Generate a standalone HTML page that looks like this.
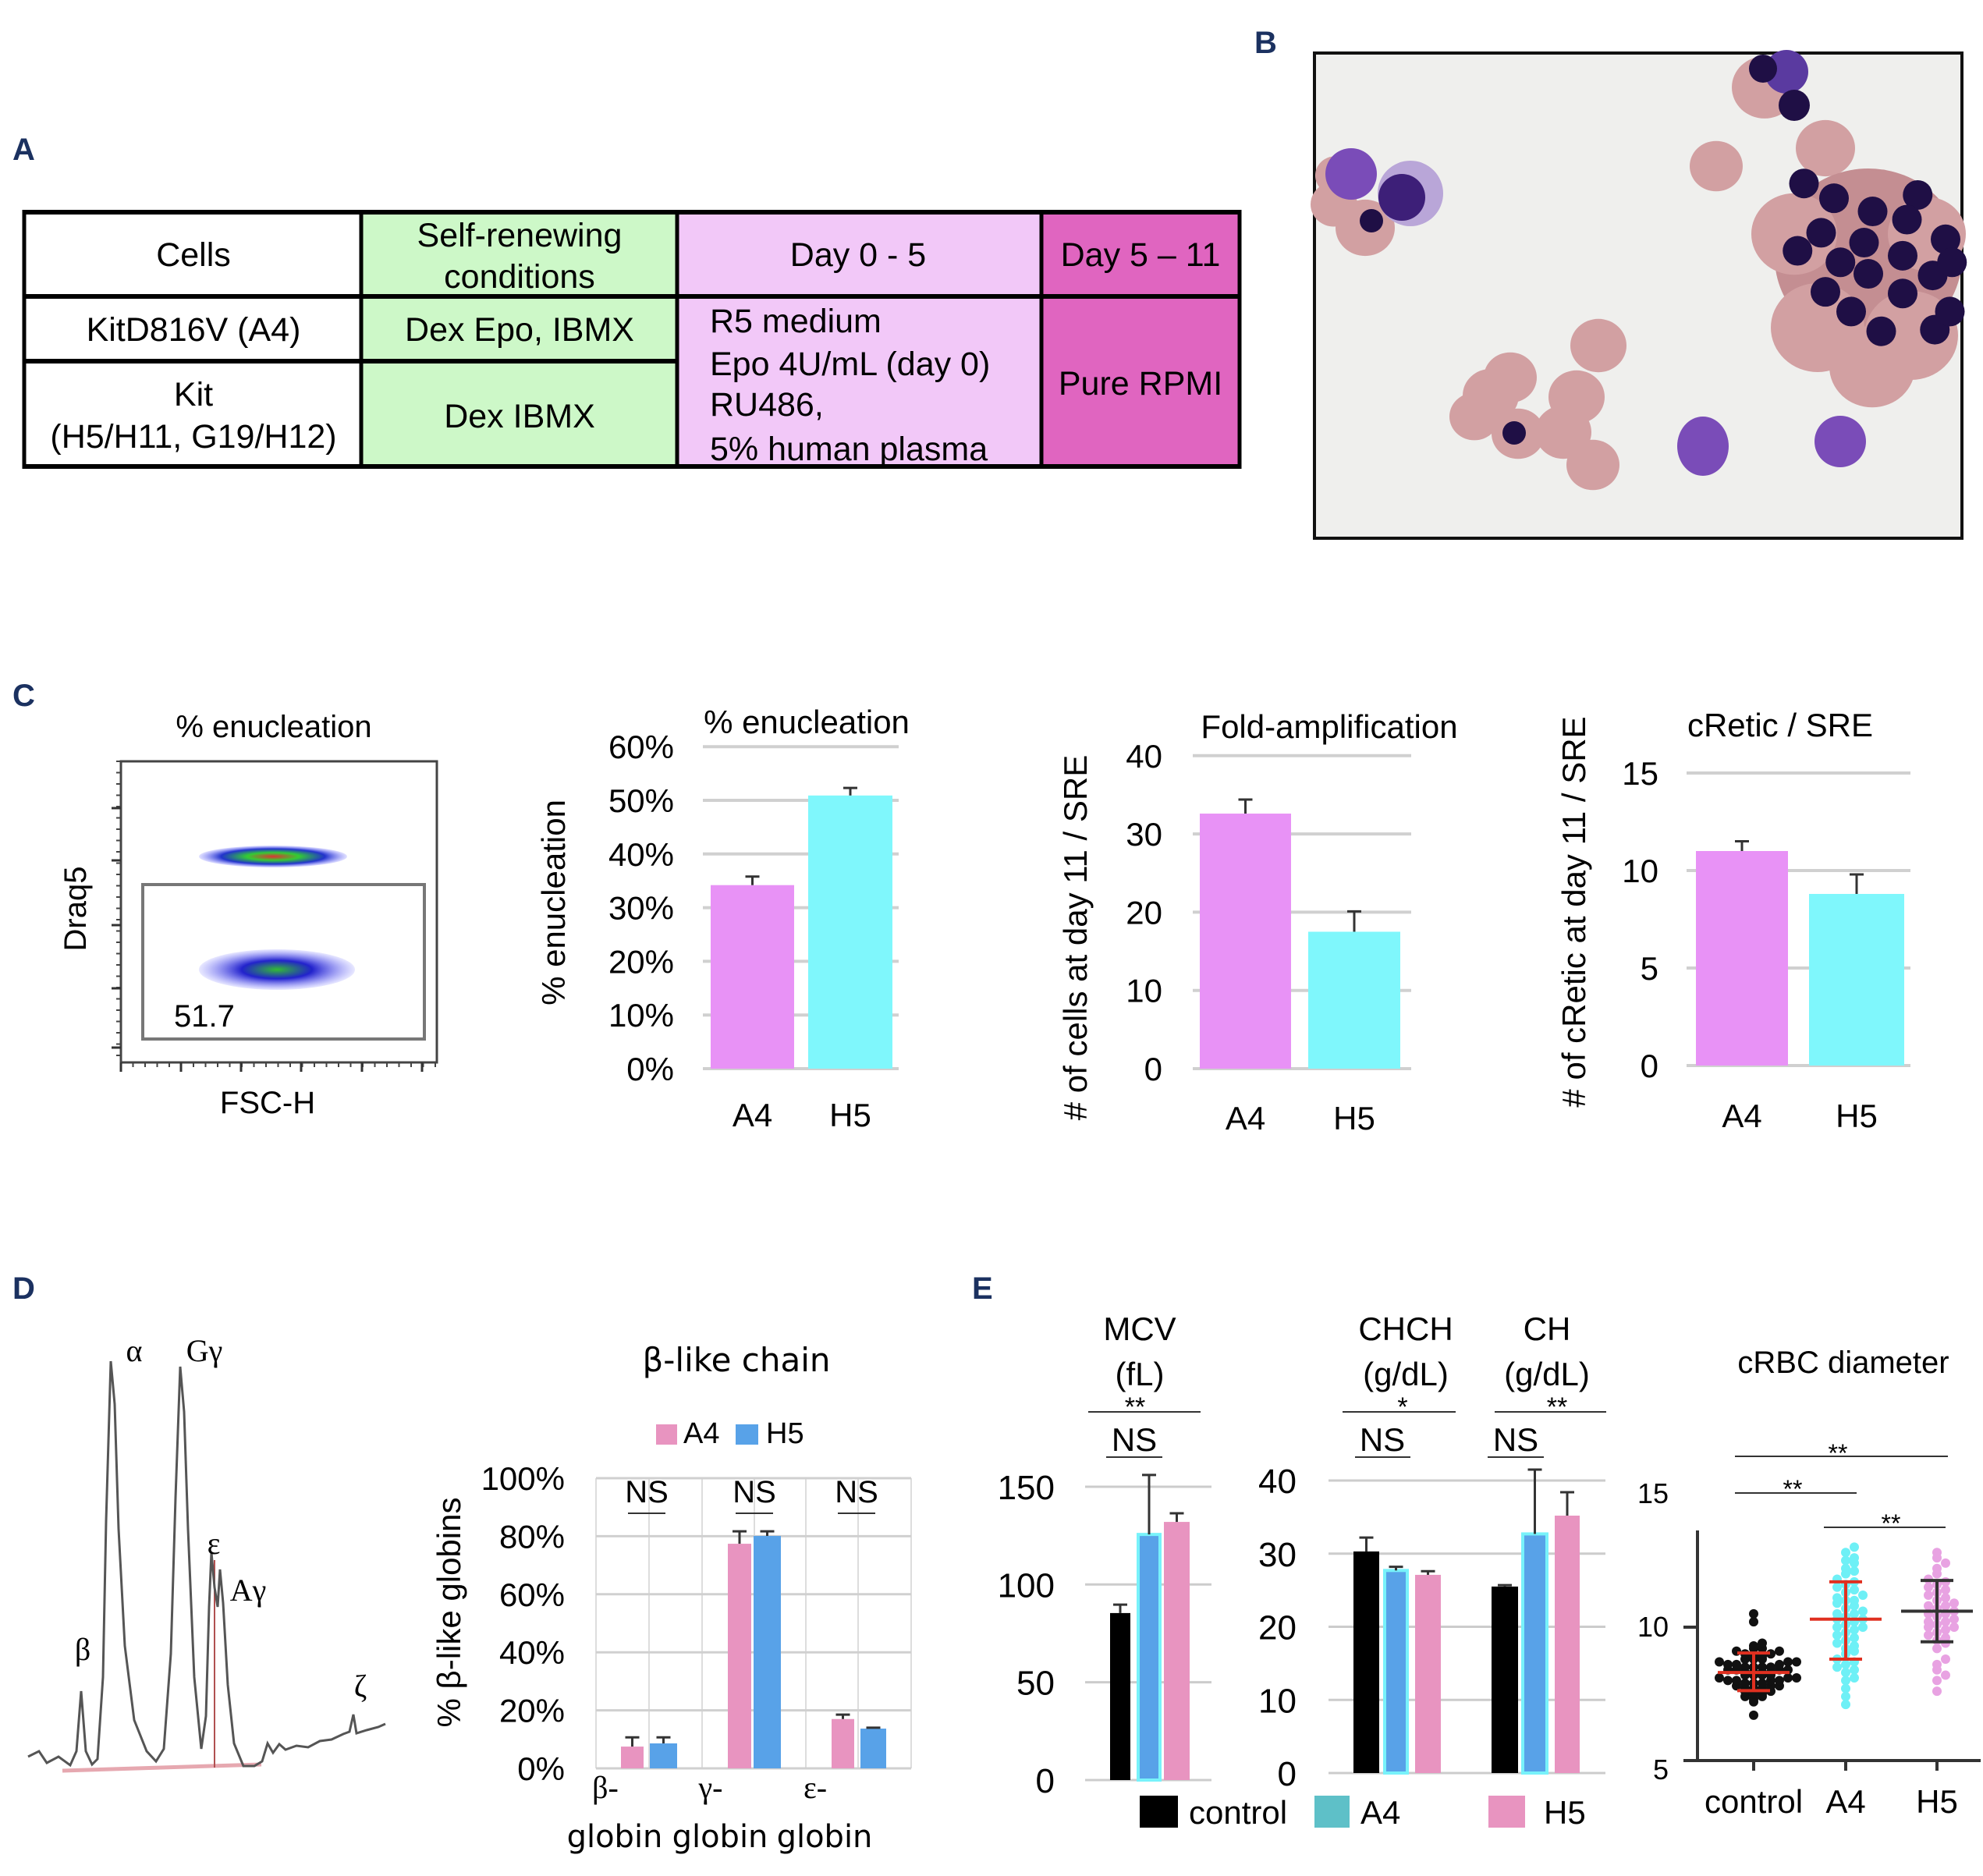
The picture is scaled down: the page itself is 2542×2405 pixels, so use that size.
<!DOCTYPE html>
<html><head><meta charset="utf-8">
<style>
html,body{margin:0;padding:0;background:#fff;}
svg{display:block;font-family:"Liberation Sans",Arial,sans-serif;}
</style></head>
<body>
<svg id="fig" xmlns="http://www.w3.org/2000/svg" width="2542" height="2405" viewBox="0 0 2542 2405">
<rect x="0" y="0" width="2542" height="2405" fill="#fff"/>
<g font-weight="bold" fill="#1b3160" font-size="40">
<text x="16" y="205">A</text>
<text x="1608" y="68">B</text>
<text x="16" y="905">C</text>
<text x="16" y="1665">D</text>
<text x="1246" y="1665">E</text>
</g>
<g>
<rect x="31" y="269" width="432" height="111" fill="#fff"/>
<rect x="463" y="269" width="405" height="331" fill="#cdf8c8"/>
<rect x="868" y="269" width="467" height="331" fill="#f2c8f8"/>
<rect x="1335" y="269" width="254" height="331" fill="#e065c0"/>
</g>
<g id="tableA"></g>
<g id="photo"></g>
<g id="charts"></g>
</svg>
<script>
// ===== data arrays =====
const encCategories = ['A4', 'H5'];
const encValues = [34.2, 50.9];
const encErrors = [1.6, 1.4];
const encTicks = ['0%', '10%', '20%', '30%', '40%', '50%', '60%'];

const foldCategories = ['A4', 'H5'];
const foldValues = [32.6, 17.5];
const foldErrors = [1.8, 2.6];
const foldTicks = [0, 10, 20, 30, 40];

const reticCategories = ['A4', 'H5'];
const reticValues = [11.0, 8.8];
const reticErrors = [0.5, 1.0];
const reticTicks = [0, 5, 10, 15];

const globCategories = ['β-', 'γ-', 'ε-'];
const globA4 = [7.5, 77.4, 17.0];
const globH5 = [8.6, 80.1, 13.7];
const globErrA4 = [3.2, 4.3, 1.5];
const globErrH5 = [2.1, 1.6, 0.3];
const globTicks = ['0%', '20%', '40%', '60%', '80%', '100%'];

const eGroups = ['control', 'A4', 'H5'];
const mcvValues = [85.4, 125.6, 132.0];
const mcvErrors = [4.3, 30.4, 4.4];
const mcvTicks = [0, 50, 100, 150];
const chchValues = [30.3, 27.7, 27.1];
const chchErrors = [1.9, 0.5, 0.5];
const chValues = [25.5, 32.7, 35.2];
const chErrors = [0.2, 8.8, 3.2];
const chTicks = [0, 10, 20, 30, 40];

const diamTicks = [5, 10, 15];
const diamControl = [6.7,7.2,7.3,7.4,7.4,7.5,7.5,7.6,7.6,7.7,7.7,7.7,7.8,7.8,7.8,7.9,7.9,7.9,8.0,8.0,8.0,8.0,8.1,8.1,8.1,8.2,8.2,8.2,8.2,8.3,8.3,8.3,8.3,8.4,8.4,8.4,8.4,8.5,8.5,8.5,8.5,8.6,8.6,8.6,8.7,8.7,8.7,8.8,8.8,8.8,8.9,8.9,9.0,9.0,9.1,9.1,9.2,9.2,9.3,9.4,10.2,10.5];
const diamA4 = [7.1,7.4,7.7,8.0,8.1,8.3,8.4,8.5,8.6,8.7,8.8,9.0,9.1,9.2,9.3,9.4,9.5,9.6,9.7,9.8,9.9,10.0,10.0,10.1,10.2,10.3,10.3,10.4,10.5,10.5,10.6,10.7,10.8,10.9,11.0,11.0,11.1,11.2,11.3,11.4,11.5,11.6,11.7,11.8,12.0,12.1,12.2,12.4,12.5,12.6,12.8,13.0];
const diamH5 = [7.6,8.0,8.2,8.4,8.6,8.8,9.2,9.4,9.5,9.6,9.7,9.8,9.9,10.0,10.0,10.1,10.2,10.2,10.3,10.4,10.5,10.5,10.6,10.7,10.8,10.8,10.9,11.0,11.1,11.2,11.3,11.4,11.5,11.6,11.7,11.8,12.0,12.2,12.4,12.6,12.8];
const diamMeans = [8.3, 10.3, 10.6];
const diamSdHigh = [9.03, 11.7, 11.75];
const diamSdLow = [7.62, 8.8, 9.45];

// ===== helpers =====
const NS = 'http://www.w3.org/2000/svg';
function mk(parent, tag, attrs, name) {
  const el = document.createElementNS(NS, tag);
  for (const k in attrs) el.setAttribute(k, attrs[k]);
  
  
  parent.appendChild(el);
  return el;
}
function txt(parent, x, y, s, size, anchor, name, extra) {
  const a = Object.assign({x: x, y: y, 'font-size': size, 'text-anchor': anchor || 'middle', fill: '#000'}, extra || {});
  const el = mk(parent, 'text', a, name);
  el.textContent = s;
  return el;
}
function line(p, x1, y1, x2, y2, stroke, w, name) {
  return mk(p, 'line', {x1: x1, y1: y1, x2: x2, y2: y2, stroke: stroke, 'stroke-width': w}, name);
}
function vtxt(p, cx, cy, s, size, name) {
  return txt(p, 0, 0, s, size, 'middle', name, {transform: 'translate(' + cx + ',' + cy + ') rotate(-90)'});
}
function errBar(p, cx, yTop, yErr, name) {
  line(p, cx, yTop, cx, yErr, '#333', 3, name + '-err');
  line(p, cx - 9, yErr, cx + 9, yErr, '#333', 3, name + '-cap');
}

// ===== Panel A table =====
(function () {
  const g = document.getElementById('tableA');
  const black = '#000';
  line(g, 31, 272, 1589, 272, black, 6, 'table-top');
  line(g, 31, 598, 1589, 598, black, 6, 'table-bottom');
  line(g, 31, 380, 1589, 380, black, 6, 'row-line-1');
  line(g, 31, 463, 868, 463, black, 6, 'row-line-2');
  [31, 463, 868, 1335, 1589].forEach(function (x, i) {
    line(g, x, 269, x, 601, black, 5, 'col-line-' + i);
  });
  const fs = 43;
  txt(g, 248, 341, 'Cells', fs, 'middle', 'header-cells');
  txt(g, 666, 316, 'Self-renewing', fs, 'middle', 'header-self-renewing');
  txt(g, 666, 369, 'conditions', fs, 'middle', 'header-conditions');
  txt(g, 1100, 341, 'Day 0 - 5', fs, 'middle', 'header-day0-5');
  txt(g, 1462, 341, 'Day 5 – 11', fs, 'middle', 'header-day5-11');
  txt(g, 248, 437, 'KitD816V (A4)', fs, 'middle', 'row-a4-cells');
  txt(g, 666, 437, 'Dex Epo, IBMX', fs, 'middle', 'row-a4-conditions');
  txt(g, 248, 520, 'Kit', fs, 'middle', 'row-kit-cells');
  txt(g, 248, 574, '(H5/H11, G19/H12)', fs, 'middle', 'row-kit-clones');
  txt(g, 666, 548, 'Dex IBMX', fs, 'middle', 'row-kit-conditions');
  txt(g, 910, 426, 'R5 medium', fs, 'start', 'medium-line-1');
  txt(g, 910, 481, 'Epo 4U/mL (day 0)', fs, 'start', 'medium-line-2');
  txt(g, 910, 533, 'RU486,', fs, 'start', 'medium-line-3');
  txt(g, 910, 590, '5% human plasma', fs, 'start', 'medium-line-4');
  txt(g, 1462, 506, 'Pure RPMI', fs, 'middle', 'pure-rpmi');
})();

// ===== Panel B photo =====
(function () {
  const g = document.getElementById('photo');
  mk(g, 'rect', {x: 1685, y: 68, width: 830, height: 622, fill: '#efefed', stroke: '#111', 'stroke-width': 4}, 'photo-frame');
  const pink = '#d2a0a2', dpink = '#c48e92', nuc = '#1f0f45', purp = '#7a4cb8';
  const pinks = [[1710,262,30],[1750,292,38],[1712,225,26],[2262,112,42],[2200,213,34],[2340,190,38],[2395,330,120],[2300,300,55],[2470,300,50],[2330,420,60],[2450,430,60],[2400,470,55],
    [1911,507,36],[1936,484,34],[2049,443,36],[2021,509,36],[2004,554,36],[2042,596,34],[1890,534,32],[1946,556,34]];
  pinks.forEach(function (c, i) {
    mk(g, 'ellipse', {cx: c[0], cy: c[1], rx: c[2], ry: c[2] * 0.95, fill: i === 6 ? dpink : pink}, 'rbc-' + i);
  });
  mk(g, 'circle', {cx: 1808, cy: 248, r: 42, fill: '#b9a6d8'}, 'cell-halo');
  mk(g, 'circle', {cx: 1732, cy: 223, r: 33, fill: purp}, 'blast-cell');
  mk(g, 'circle', {cx: 1797, cy: 253, r: 30, fill: '#3d1f78'}, 'erythroblast');
  mk(g, 'circle', {cx: 1758, cy: 283, r: 15, fill: nuc}, 'nucleus-left');
  mk(g, 'circle', {cx: 2290, cy: 92, r: 28, fill: '#5a3aa0'}, 'top-blast');
  mk(g, 'circle', {cx: 2260, cy: 88, r: 18, fill: nuc}, 'top-nucleus-1');
  mk(g, 'circle', {cx: 2300, cy: 135, r: 20, fill: nuc}, 'top-nucleus-2');
  const nz = [[1150,440],[1220,485],[1310,525],[1415,475],[1390,550],[1190,590],[1290,620],[1135,645],[1480,610],[1235,680],[1300,715],[1380,660],[1450,720],[1200,770],[1260,830],[1380,775],[1330,890],[1455,885],[1490,830],[1495,680]];
  nz.forEach(function (p, i) {
    mk(g, 'circle', {cx: 1680 + 0.55 * p[0], cy: 50 + 0.421 * p[1], r: 19, fill: nuc}, 'cluster-nucleus-' + i);
  });
  mk(g, 'circle', {cx: 1941, cy: 555, r: 15, fill: nuc}, 'bottom-nucleus');
  mk(g, 'ellipse', {cx: 2183, cy: 572, rx: 33, ry: 38, fill: purp}, 'purple-cell-1');
  mk(g, 'ellipse', {cx: 2359, cy: 566, rx: 33, ry: 33, fill: purp}, 'purple-cell-2');
})();

const C = document.getElementById('charts');

// ===== Panel C: flow plot =====
(function () {
  const g = mk(C, 'g', {}, 'flow-plot');
  txt(g, 351, 945, '% enucleation', 40, 'middle', 'flow-title');
  mk(g, 'rect', {x: 155, y: 976, width: 405, height: 386, fill: 'none', stroke: '#444', 'stroke-width': 3}, 'flow-frame');
  mk(g, 'rect', {x: 183, y: 1134, width: 361, height: 198, fill: 'none', stroke: '#777', 'stroke-width': 4}, 'gate-box');
  for (let i = 0; i < 27; i++) {
    const y = 976 + i * 14.5;
    line(g, 149, y, 155, y, '#444', 2, 'y-minor-tick');
  }
  [1036, 1103, 1186, 1267, 1343].forEach(function (y) { line(g, 143, y, 155, y, '#333', 3, 'y-major-tick'); });
  for (let i = 0; i < 27; i++) {
    const x = 155 + i * 15.5;
    line(g, x, 1362, x, 1368, '#444', 2, 'x-minor-tick');
  }
  [155, 232, 309, 386, 464, 541].forEach(function (x) { line(g, x, 1362, x, 1374, '#333', 3, 'x-major-tick'); });
  const defs = mk(g, 'defs', {}, 'flow-defs');
  const gr = mk(defs, 'radialGradient', {id: 'dens1'}, 'density-gradient');
  mk(gr, 'stop', {offset: '0%', 'stop-color': '#d33'}, 'stop-red');
  mk(gr, 'stop', {offset: '35%', 'stop-color': '#3c3'}, 'stop-green');
  mk(gr, 'stop', {offset: '70%', 'stop-color': '#23c'}, 'stop-blue');
  mk(gr, 'stop', {offset: '100%', 'stop-color': '#66f', 'stop-opacity': '0.2'}, 'stop-edge');
  const gr2 = mk(defs, 'radialGradient', {id: 'dens2'}, 'density-gradient-2');
  mk(gr2, 'stop', {offset: '0%', 'stop-color': '#3b3'}, 'stop-green');
  mk(gr2, 'stop', {offset: '45%', 'stop-color': '#22c'}, 'stop-blue');
  mk(gr2, 'stop', {offset: '100%', 'stop-color': '#66f', 'stop-opacity': '0.15'}, 'stop-edge');
  mk(g, 'ellipse', {cx: 350, cy: 1098, rx: 95, ry: 14, fill: 'url(#dens1)'}, 'nucleated-population');
  mk(g, 'ellipse', {cx: 355, cy: 1243, rx: 100, ry: 26, fill: 'url(#dens2)'}, 'enucleated-population');
  txt(g, 223, 1316, '51.7', 40, 'start', 'gate-percentage');
  vtxt(g, 110, 1165, 'Draq5', 40, 'y-axis-title');
  txt(g, 343, 1427, 'FSC-H', 40, 'middle', 'x-axis-title');
})();

function barChart(cfg) {
  const g = mk(C, 'g', {}, cfg.name);
  const y = function (v) { return cfg.y0 - (v - cfg.vmin) * cfg.k; };
  cfg.ticks.forEach(function (t, i) {
    const v = cfg.tickVals[i];
    line(g, cfg.gx0, y(v), cfg.gx1, y(v), '#d0d0d0', 4, 'gridline');
    txt(g, cfg.lx, y(v) + 15, String(t), 42, 'end', 'y-tick-label');
  });
  cfg.values.forEach(function (v, i) {
    const x0 = cfg.bx[i][0], x1 = cfg.bx[i][1];
    mk(g, 'rect', {x: x0, y: y(v), width: x1 - x0, height: y(cfg.vmin) - y(v), fill: cfg.colors[i]}, 'bar-' + cfg.cats[i]);
    errBar(g, (x0 + x1) / 2, y(v), y(v + cfg.errors[i]), 'bar-' + cfg.cats[i]);
    txt(g, (x0 + x1) / 2, cfg.xly, cfg.cats[i], 42, 'middle', 'x-label-' + cfg.cats[i]);
  });
  txt(g, cfg.tx, cfg.ty, cfg.title, 42, 'middle', 'chart-title');
  vtxt(g, cfg.ytx, cfg.yty, cfg.ytitle, 42, 'y-axis-title');
}
barChart({name: 'enucleation-chart', cats: encCategories, values: encValues, errors: encErrors,
  ticks: encTicks, tickVals: [0, 10, 20, 30, 40, 50, 60], vmin: 0, y0: 1370, k: 6.88,
  gx0: 901, gx1: 1152, lx: 864, bx: [[911, 1018], [1036, 1144]], colors: ['#e892f6', '#7ff7fc'],
  xly: 1444, tx: 1034, ty: 940, title: '% enucleation', ytx: 724, yty: 1157, ytitle: '% enucleation'});
barChart({name: 'fold-amplification-chart', cats: foldCategories, values: foldValues, errors: foldErrors,
  ticks: foldTicks, tickVals: foldTicks, vmin: 0, y0: 1370, k: 10.03,
  gx0: 1529, gx1: 1809, lx: 1490, bx: [[1538, 1655], [1677, 1795]], colors: ['#e892f6', '#7ff7fc'],
  xly: 1448, tx: 1704, ty: 946, title: 'Fold-amplification', ytx: 1393, yty: 1202, ytitle: '# of cells at day 11 / SRE'});
barChart({name: 'cretic-chart', cats: reticCategories, values: reticValues, errors: reticErrors,
  ticks: reticTicks, tickVals: reticTicks, vmin: 0, y0: 1366, k: 25.0,
  gx0: 2162, gx1: 2449, lx: 2126, bx: [[2174, 2292], [2319, 2441]], colors: ['#e892f6', '#7ff7fc'],
  xly: 1445, tx: 2282, ty: 944, title: 'cRetic / SRE', ytx: 2032, yty: 1169, ytitle: '# of cRetic at day 11 / SRE'});

// ===== Panel D chromatogram =====
(function () {
  const g = mk(C, 'g', {}, 'chromatogram');
  mk(g, 'line', {x1: 80, y1: 2270, x2: 335, y2: 2262, stroke: '#e6a8b0', 'stroke-width': 5}, 'chrom-baseline');
  mk(g, 'line', {x1: 275, y1: 2000, x2: 275, y2: 2266, stroke: '#b05050', 'stroke-width': 2}, 'chrom-marker');
  const pts = [[36,2252],[50,2245],[60,2260],[75,2252],[90,2263],[98,2245],[104,2168],[110,2245],[118,2262],[125,2255],[132,2150],[136,1950],[142,1745],[147,1800],[152,1960],[160,2110],[172,2205],[188,2245],[200,2258],[210,2242],[219,2120],[225,1920],[231,1752],[236,1810],[241,1960],[249,2150],[258,2242],[264,2200],[268,2060],[271,1990],[275,2035],[279,2060],[282,2012],[286,2055],[292,2160],[300,2235],[312,2264],[326,2264],[336,2258],[343,2235],[350,2247],[358,2236],[366,2243],[380,2238],[395,2240],[410,2232],[425,2230],[440,2223],[448,2220],[453,2198],[457,2222],[470,2218],[485,2214],[494,2210]];
  mk(g, 'polyline', {points: pts.map(function (p) { return p.join(','); }).join(' '), fill: 'none', stroke: '#555', 'stroke-width': 3}, 'chrom-trace');
  const lab = [[106,2128,'β','beta'],[172,1745,'α','alpha'],[262,1745,'Gγ','g-gamma'],[274,1992,'ε','epsilon'],[318,2052,'Aγ','a-gamma'],[462,2175,'ζ','zeta']];
  lab.forEach(function (l) {
    txt(g, l[0], l[1], l[2], 40, 'middle', 'peak-label-' + l[3], {'font-family': '"Liberation Serif", serif'});
  });
})();

// ===== Panel D bar chart =====
(function () {
  const g = mk(C, 'g', {}, 'beta-like-chain-chart');
  const y = function (v) { return 2267 - v * 3.72; };
  [764, 832, 900, 967, 1033, 1100, 1168].forEach(function (x) { line(g, x, 1895, x, 2267, '#ddd', 2, 'v-gridline'); });
  globTicks.forEach(function (t, i) {
    const v = i * 20;
    line(g, 764, y(v), 1168, y(v), '#d0d0d0', 3, 'gridline');
    txt(g, 724, y(v) + 15, t, 42, 'end', 'y-tick-label');
  });
  const ax = [[796, 825], [933, 963], [1066, 1095]];
  const hx = [[833, 868], [966, 1001], [1103, 1136]];
  const nsx = [829, 967, 1098];
  const lx = [788, 923, 1057];
  globCategories.forEach(function (c, i) {
    mk(g, 'rect', {x: ax[i][0], y: y(globA4[i]), width: ax[i][1] - ax[i][0], height: y(0) - y(globA4[i]), fill: '#e894c0'}, 'bar-a4-' + i);
    errBar(g, (ax[i][0] + ax[i][1]) / 2, y(globA4[i]), y(globA4[i] + globErrA4[i]), 'bar-a4-' + i);
    mk(g, 'rect', {x: hx[i][0], y: y(globH5[i]), width: hx[i][1] - hx[i][0], height: y(0) - y(globH5[i]), fill: '#58a2e8'}, 'bar-h5-' + i);
    errBar(g, (hx[i][0] + hx[i][1]) / 2, y(globH5[i]), y(globH5[i] + globErrH5[i]), 'bar-h5-' + i);
    txt(g, nsx[i], 1926, 'NS', 40, 'middle', 'ns-label');
    line(g, nsx[i] - 24, 1940, nsx[i] + 24, 1940, '#333', 2, 'ns-underline');
    txt(g, lx[i] - 12, 2305, c, 40, 'middle', 'x-label-prefix', {'font-family': '"Liberation Serif", serif'});
    txt(g, lx[i], 2368, 'globin', 40, 'middle', 'x-label-globin', {'font-family': '"DejaVu Sans", sans-serif'});
  });
  txt(g, 944, 1758, 'β-like chain', 42, 'middle', 'chart-title', {'font-family': '"DejaVu Sans", sans-serif'});
  mk(g, 'rect', {x: 841, y: 1826, width: 27, height: 26, fill: '#e894c0'}, 'legend-swatch-a4');
  txt(g, 876, 1850, 'A4', 38, 'start', 'legend-label-a4');
  mk(g, 'rect', {x: 943, y: 1826, width: 29, height: 26, fill: '#58a2e8'}, 'legend-swatch-h5');
  txt(g, 982, 1850, 'H5', 38, 'start', 'legend-label-h5');
  vtxt(g, 590, 2067, '% β-like globins', 42, 'y-axis-title');
})();

// ===== Panel E bar charts =====
(function () {
  const g = mk(C, 'g', {}, 'rbc-indices-chart');
  const colors = ['#000', '#58a2e8', '#e894c0'];
  function bars(vals, errs, xs, yf, prefix) {
    vals.forEach(function (v, i) {
      const r = mk(g, 'rect', {x: xs[i][0], y: yf(v), width: xs[i][1] - xs[i][0], height: yf(0) - yf(v), fill: colors[i]}, prefix + '-bar-' + eGroups[i]);
      if (i === 1) { r.setAttribute('stroke', '#78f2fa'); r.setAttribute('stroke-width', '4'); }
      errBar(g, (xs[i][0] + xs[i][1]) / 2, yf(v), yf(v + errs[i]), prefix + '-' + eGroups[i]);
    });
  }
  const ym = function (v) { return 2282 - v * 2.507; };
  mcvTicks.forEach(function (t) {
    line(g, 1391, ym(t), 1553, ym(t), '#ccc', 3, 'mcv-gridline');
    txt(g, 1352, ym(t) + 16, String(t), 44, 'end', 'mcv-tick-label');
  });
  bars(mcvValues, mcvErrors, [[1423, 1449], [1459, 1487], [1492, 1525]], ym, 'mcv');
  const yc = function (v) { return 2273 - v * 9.375; };
  chTicks.forEach(function (t) {
    line(g, 1703, yc(t), 2058, yc(t), '#ccc', 3, 'ch-gridline');
    txt(g, 1662, yc(t) + 16, String(t), 44, 'end', 'ch-tick-label');
  });
  bars(chchValues, chchErrors, [[1735, 1768], [1775, 1804], [1814, 1847]], yc, 'chch');
  bars(chValues, chErrors, [[1912, 1946], [1952, 1983], [1993, 2025]], yc, 'ch');
  txt(g, 1461, 1718, 'MCV', 42, 'middle', 'mcv-title');
  txt(g, 1461, 1776, '(fL)', 42, 'middle', 'mcv-unit');
  txt(g, 1802, 1718, 'CHCH', 42, 'middle', 'chch-title');
  txt(g, 1802, 1776, '(g/dL)', 42, 'middle', 'chch-unit');
  txt(g, 1983, 1718, 'CH', 42, 'middle', 'ch-title');
  txt(g, 1983, 1776, '(g/dL)', 42, 'middle', 'ch-unit');
  line(g, 1395, 1810, 1539, 1810, '#333', 2, 'mcv-sig-line');
  txt(g, 1455, 1815, '**', 34, 'middle', 'mcv-sig');
  line(g, 1721, 1810, 1866, 1810, '#333', 2, 'chch-sig-line');
  txt(g, 1798, 1815, '*', 34, 'middle', 'chch-sig');
  line(g, 1916, 1810, 2059, 1810, '#333', 2, 'ch-sig-line');
  txt(g, 1996, 1815, '**', 34, 'middle', 'ch-sig');
  txt(g, 1454, 1860, 'NS', 42, 'middle', 'mcv-ns');
  line(g, 1418, 1868, 1490, 1868, '#333', 2, 'mcv-ns-line');
  txt(g, 1772, 1860, 'NS', 42, 'middle', 'chch-ns');
  line(g, 1737, 1868, 1808, 1868, '#333', 2, 'chch-ns-line');
  txt(g, 1943, 1860, 'NS', 42, 'middle', 'ch-ns');
  line(g, 1907, 1868, 1979, 1868, '#333', 2, 'ch-ns-line');
  mk(g, 'rect', {x: 1461, y: 2302, width: 49, height: 41, fill: '#000'}, 'legend-swatch-control');
  txt(g, 1524, 2338, 'control', 42, 'start', 'legend-label-control');
  mk(g, 'rect', {x: 1685, y: 2302, width: 45, height: 41, fill: '#5ec0c8'}, 'legend-swatch-a4');
  txt(g, 1744, 2338, 'A4', 42, 'start', 'legend-label-a4');
  mk(g, 'rect', {x: 1908, y: 2302, width: 47, height: 41, fill: '#e894c0'}, 'legend-swatch-h5');
  txt(g, 1979, 2338, 'H5', 42, 'start', 'legend-label-h5');
})();

// ===== Panel E scatter =====
(function () {
  const g = mk(C, 'g', {}, 'crbc-diameter-chart');
  const y = function (v) { return 2257 - (v - 5) * 34.2; };
  const gx = [2248, 2366, 2483];
  txt(g, 2363, 1760, 'cRBC diameter', 40, 'middle', 'chart-title');
  line(g, 2176, 1962, 2176, 2259, '#333', 4, 'y-axis');
  line(g, 2158, 2257, 2539, 2257, '#333', 4, 'x-axis');
  diamTicks.forEach(function (t) {
    if (t === 10) line(g, 2158, y(t), 2176, y(t), '#333', 4, 'y-tick');
    txt(g, 2139, y(t) + (t === 5 ? 24 : 12), String(t), 36, 'end', 'y-tick-label');
  });
  const series = [diamControl, diamA4, diamH5];
  const cols = ['#111', '#6ef0f6', '#e8a2e2'];
  const binW = [0.2, 0.3, 0.3];
  series.forEach(function (arr, gi) {
    line(g, gx[gi], 2257, gx[gi], 2270, '#333', 4, 'x-tick');
    txt(g, gx[gi], 2324, eGroups[gi], 42, 'middle', 'x-label-' + eGroups[gi]);
    const counts = {};
    arr.forEach(function (v) {
      const b = Math.round(v / binW[gi]);
      const k = counts[b] || 0;
      counts[b] = k + 1;
      const off = (k % 2 ? 1 : -1) * Math.ceil(k / 2) * 11;
      mk(g, 'circle', {cx: gx[gi] + off, cy: y(v), r: 6, fill: cols[gi]}, 'point-' + eGroups[gi]);
    });
    const ec = gi === 2 ? '#333' : '#e03020';
    line(g, gx[gi] - 46, y(diamMeans[gi]), gx[gi] + 46, y(diamMeans[gi]), ec, 4, 'mean-line-' + eGroups[gi]);
    line(g, gx[gi], y(diamSdHigh[gi]), gx[gi], y(diamSdLow[gi]), ec, 4, 'sd-line-' + eGroups[gi]);
    line(g, gx[gi] - 21, y(diamSdHigh[gi]), gx[gi] + 21, y(diamSdHigh[gi]), ec, 4, 'sd-cap-high');
    line(g, gx[gi] - 21, y(diamSdLow[gi]), gx[gi] + 21, y(diamSdLow[gi]), ec, 4, 'sd-cap-low');
  });
  line(g, 2224, 1867, 2497, 1867, '#333', 2, 'sig-line-control-h5');
  txt(g, 2356, 1874, '**', 32, 'middle', 'sig-control-h5');
  line(g, 2224, 1914, 2380, 1914, '#333', 2, 'sig-line-control-a4');
  txt(g, 2298, 1920, '**', 32, 'middle', 'sig-control-a4');
  line(g, 2338, 1958, 2494, 1958, '#333', 2, 'sig-line-a4-h5');
  txt(g, 2424, 1964, '**', 32, 'middle', 'sig-a4-h5');
})();
</script>
</body></html>
